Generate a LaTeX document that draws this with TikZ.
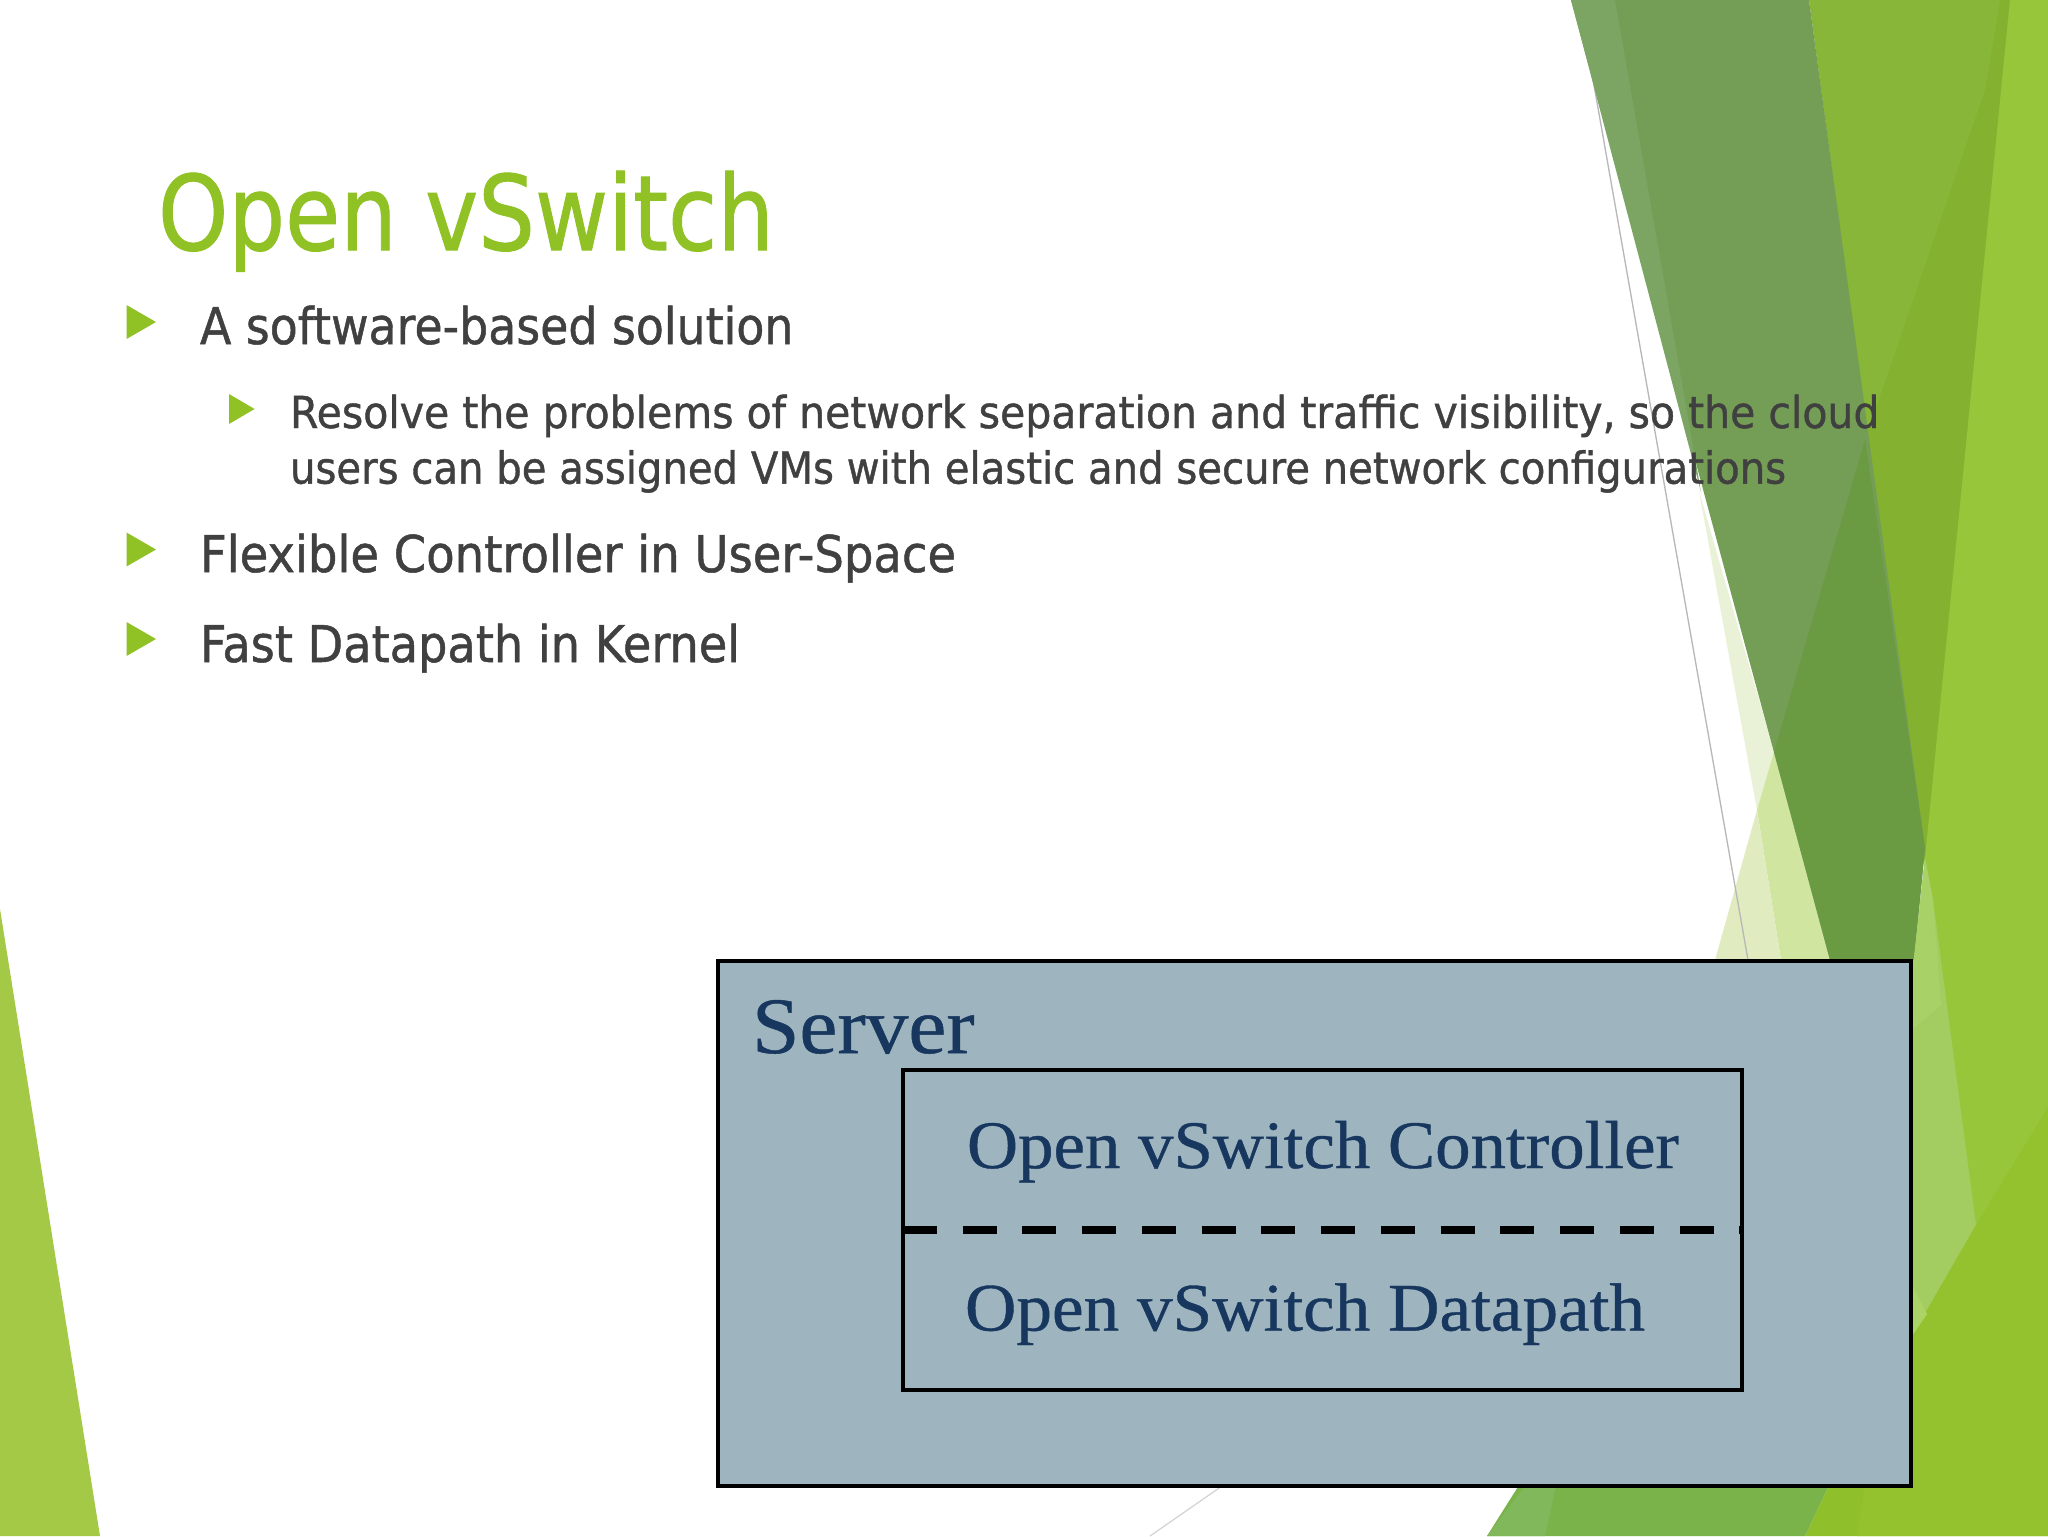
\documentclass[tikz,border=0pt]{standalone}
\usepackage{graphicx}
\usepackage{fontspec}
\setmainfont[FakeBold=1.0]{DejaVu Sans}
\newfontfamily\boxfont[FakeBold=0.6]{Liberation Serif}
\definecolor{titlegreen}{HTML}{90C226}
\definecolor{bodygrey}{HTML}{404040}
\definecolor{boxfill}{HTML}{9EB5C0}
\definecolor{boxtext}{HTML}{17375E}
\definecolor{lineA}{HTML}{B8B8B8}
\definecolor{lineB}{HTML}{D2D2D2}
\newcommand{\wtxt}[2]{\resizebox{#1pt}{\height}{#2}}
\tikzset{
  txt/.style={anchor=base west,inner sep=0pt,outer sep=0pt},
  bulletmark/.style={fill=titlegreen,draw=none},
  boxshape/.style={draw=black,line width=3pt,fill=boxfill,inner sep=0pt,outer sep=0pt},
  facet/.code={\definecolor{fc}{HTML}{#1}\pgfkeysalso{/tikz/fill=fc,/tikz/draw=none}}
}
\begin{document}
\begin{tikzpicture}[x=0.75pt,y=-0.75pt]
\useasboundingbox (0,0) rectangle (2048,1536);
\fill[white] (0,0) rectangle (2048,1536);
% left wedge
\fill[facet=A3C946] (0,909) -- (100,1536) -- (0,1536) -- cycle;
% pale facets
\fill[facet=E9F1D6] (1699,491) -- (1757,810) -- (1774,752) -- cycle;
\fill[facet=CFE5A0] (1757,810) -- (1774,752) -- (1830,960) -- (1781,960) -- cycle;
\fill[facet=E0ECC0] (1757,810) -- (1781,960) -- (1715,960) -- cycle;
% thin grey lines
\draw[color=lineA,line width=1pt] (1579,0) -- (1748,960);
\draw[color=lineB,line width=0.9pt] (1222,1486) -- (1150,1536);
% bright green middle band
\fill[facet=88B638] (1809,0) -- (2030,0) -- (1944,1000) -- cycle;
\fill[facet=84B230] (1865,440) -- (1985,90) -- (2000,0) -- (2030,0) -- (1944,1000) -- cycle;
% dark band
\fill[facet=749D56] (1571,0) -- (1809,0) -- (1925,848) -- (1914,960) -- (1830,960) -- cycle;
\fill[facet=7CA564] (1571,0) -- (1615,0) -- (1701,492) -- cycle;
\fill[facet=6A9A42] (1865,440) -- (1925,848) -- (1914,960) -- (1830,960) -- (1774,752) -- cycle;
% right facets
\fill[facet=97C63A] (2010,0) -- (2048,0) -- (2048,1536) -- (1857,1536) -- (1860,1486) -- (1925,858) -- cycle;
\fill[facet=A3CD60] (1925,858) -- (1933,900) -- (1976,1225) -- (1912,1336) -- (1900,1336) -- (1900,1000) -- (1914,958) -- cycle;
\fill[facet=A8D168] (1925,858) -- (1933,900) -- (1941,1005) -- (1912,1030) -- (1905,1030) -- (1914,958) -- cycle;
\fill[facet=94C22E] (2048,1107) -- (1976,1225) -- (1912,1336) -- (1860,1486) -- (1857,1536) -- (2048,1536) -- cycle;
\fill[facet=ABD467] (1912,1285) -- (1927,1314) -- (1912,1336) -- cycle;
% bottom facets
\fill[facet=8FBF2B] (1805,1536) -- (1860,1420) -- (1875,1420) -- (1857,1536) -- cycle;
\fill[facet=7AB34A] (1487,1536) -- (1560,1420) -- (1860,1420) -- (1805,1536) -- cycle;
\fill[facet=82B85C] (1487,1536) -- (1545,1536) -- (1557,1480) -- (1530,1480) -- cycle;
% title and bullets
\node[txt] (title) at (158,250) {\color{titlegreen}\fontsize{78pt}{84pt}\selectfont\wtxt{462}{Open vSwitch}};
\fill[bulletmark] (126.5,305) -- (156,322) -- (126.5,339) -- cycle;
\fill[bulletmark] (126.5,532.5) -- (156,549.5) -- (126.5,566.5) -- cycle;
\fill[bulletmark] (126.5,622) -- (156,639) -- (126.5,656) -- cycle;
\fill[bulletmark] (229,394) -- (254.6,409) -- (229,424) -- cycle;
\node[txt] (b1) at (200,344) {\color{bodygrey}\fontsize{38pt}{42pt}\selectfont\wtxt{445}{A software-based solution}};
\node[txt] (s1) at (290,428) {\color{bodygrey}\fontsize{33pt}{38pt}\selectfont\wtxt{1192}{Resolve the problems of network separation and traffic visibility, so the cloud}};
\node[txt] (s2) at (290,483.6) {\color{bodygrey}\fontsize{33pt}{38pt}\selectfont\wtxt{1122}{users can be assigned VMs with elastic and secure network configurations}};
\node[txt] (b2) at (200,572) {\color{bodygrey}\fontsize{38pt}{42pt}\selectfont\wtxt{567}{Flexible Controller in User-Space}};
\node[txt] (b3) at (200,662) {\color{bodygrey}\fontsize{38pt}{42pt}\selectfont\wtxt{405}{Fast Datapath in Kernel}};
% boxes
\node[boxshape,minimum width=894.75pt,minimum height=393.75pt] (server) at (1314.5,1223.5) {};
\node[boxshape,minimum width=629.25pt,minimum height=240pt] (ovs) at (1322.5,1230) {};
\coordinate (dashL) at (ovs.west);
\coordinate (dashR) at (ovs.east);
\draw[line width=6.4pt,dash pattern=on 25.5pt off 19.3pt] (dashL) -- (dashR);
\node[txt] (srv) at (752,1053) {\color{boxtext}\boxfont\fontsize{60pt}{66pt}\selectfont\wtxt{167}{Server}};
\node[txt] (ctl) at (967,1168) {\color{boxtext}\boxfont\fontsize{51pt}{56pt}\selectfont\wtxt{534}{Open vSwitch Controller}};
\node[txt] (dp) at (965,1330.5) {\color{boxtext}\boxfont\fontsize{51pt}{56pt}\selectfont\wtxt{510}{Open vSwitch Datapath}};
\end{tikzpicture}
\end{document}
